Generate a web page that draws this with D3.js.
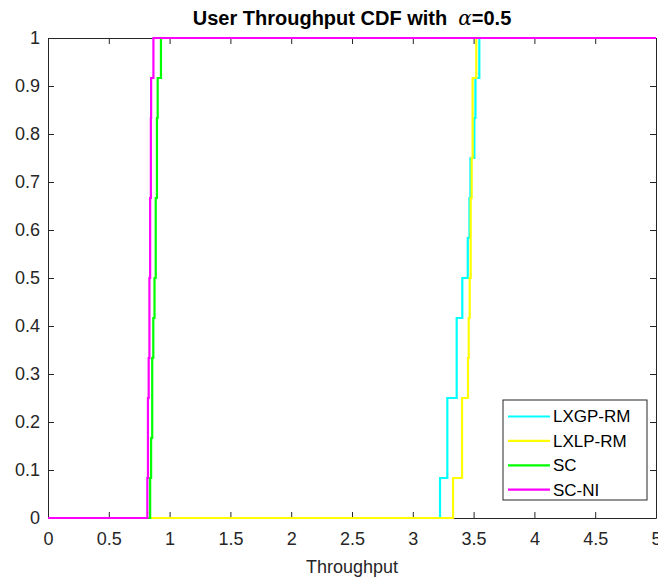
<!DOCTYPE html>
<html><head><meta charset="utf-8">
<script src="https://cdn.jsdelivr.net/npm/d3@7/dist/d3.min.js"></script>
<style>body{margin:0;background:#fff}svg{display:block}</style>
</head><body>
<svg id="c" width="658" height="580"></svg>
<script>
// ---- data ----
const seriesNames = ["LXGP-RM", "LXLP-RM", "SC", "SC-NI"];
const seriesColors = ["#00ffff", "#ffff00", "#00ff00", "#ff00ff"];
// step positions (throughput) and CDF value after each step
const lxgpX = [3.224, 3.284, 3.361, 3.407, 3.452, 3.466, 3.474, 3.506, 3.515, 3.547];
const lxgpF = [1/12, 3/12, 5/12, 6/12, 7/12, 8/12, 9/12, 10/12, 11/12, 1];
const lxlpX = [3.331, 3.405, 3.454, 3.460, 3.468, 3.476, 3.484, 3.492, 3.522];
const lxlpF = [1/12, 3/12, 4/12, 5/12, 6/12, 8/12, 9/12, 11/12, 1];
const scX = [0.840, 0.848, 0.857, 0.866, 0.876, 0.886, 0.896, 0.902, 0.929];
const scF = [1/12, 2/12, 4/12, 5/12, 6/12, 8/12, 10/12, 11/12, 1];
const scniX = [0.817, 0.822, 0.828, 0.834, 0.840, 0.846, 0.848, 0.867];
const scniF = [1/12, 3/12, 4/12, 6/12, 8/12, 10/12, 11/12, 1];
const xTicks = [0, 0.5, 1, 1.5, 2, 2.5, 3, 3.5, 4, 4.5, 5];
const yTicks = [0, 0.1, 0.2, 0.3, 0.4, 0.5, 0.6, 0.7, 0.8, 0.9, 1];
const xDomain = [0, 5], yDomain = [0, 1];

const seriesX = [lxgpX, lxlpX, scX, scniX];
const seriesF = [lxgpF, lxlpF, scF, scniF];

// ---- layout ----
const L = 48, R = 656, T = 38, B = 518;
const svg = d3.select("#c");
const x = d3.scaleLinear().domain(xDomain).range([L, R]);
const y = d3.scaleLinear().domain(yDomain).range([B, T]);
const font = "'Liberation Sans', Arial, Helvetica, sans-serif";
const axisColor = "#262626";
const tickLen = 6;

// axes with inward ticks on all four sides
const fmt = d => d3.format("")(+d.toFixed(2));
const gB = svg.append("g").attr("transform", `translate(0,${B})`)
  .call(d3.axisBottom(x).tickValues(xTicks).tickFormat(fmt).tickSizeInner(-tickLen).tickSizeOuter(0).tickPadding(tickLen + 8));
const gT = svg.append("g").attr("transform", `translate(0,${T})`)
  .call(d3.axisTop(x).tickValues(xTicks).tickFormat("").tickSizeInner(-tickLen).tickSizeOuter(0));
const gL = svg.append("g").attr("transform", `translate(${L},0)`)
  .call(d3.axisLeft(y).tickValues(yTicks).tickFormat(fmt).tickSizeInner(-tickLen).tickSizeOuter(0).tickPadding(tickLen + 2));
const gR = svg.append("g").attr("transform", `translate(${R},0)`)
  .call(d3.axisRight(y).tickValues(yTicks).tickFormat("").tickSizeInner(-tickLen).tickSizeOuter(0));
[gB, gT, gL, gR].forEach(g => {
  g.select(".domain").attr("stroke", axisColor).attr("stroke-width", 1);
  g.selectAll(".tick line").attr("stroke", axisColor);
  g.selectAll("text").attr("fill", axisColor).style("font-family", font).style("font-size", "18px");
});

// series
const line = d3.line().x(d => x(d[0])).y(d => y(d[1])).curve(d3.curveStepAfter);
seriesNames.forEach((name, i) => {
  const pts = [[xDomain[0], 0]].concat(seriesX[i].map((v, j) => [v, seriesF[i][j]]), [[xDomain[1], 1]]);
  svg.append("path").datum(pts).attr("d", line)
    .attr("fill", "none").attr("stroke", seriesColors[i]).attr("stroke-width", 2.2);
});

// title
const title = svg.append("text").attr("x", (L + R) / 2).attr("y", 25).attr("text-anchor", "middle")
  .attr("fill", "#000").style("font-family", font).style("font-size", "20px").style("font-weight", "bold");
title.append("tspan").text("User Throughput CDF with\u00a0\u00a0");
title.append("tspan").text("α").style("font-style", "italic").style("font-weight", "normal").style("font-family", "'DejaVu Serif', serif");
title.append("tspan").text("=0.5");

// x label
svg.append("text").attr("x", (L + R) / 2).attr("y", 573).attr("text-anchor", "middle")
  .attr("fill", axisColor).style("font-family", font).style("font-size", "18px").text("Throughput");

// legend
const lg = svg.append("g");
const lgX = 503, lgY = 400, lgW = 144, lgH = 100, rowH = 24.4;
lg.append("rect").attr("x", lgX).attr("y", lgY).attr("width", lgW).attr("height", lgH)
  .attr("fill", "#fff").attr("stroke", axisColor).attr("stroke-width", 1);
seriesNames.forEach((name, i) => {
  const yy = lgY + 16.5 + i * rowH;
  lg.append("line").attr("x1", lgX + 5).attr("x2", lgX + 47).attr("y1", yy).attr("y2", yy)
    .attr("stroke", seriesColors[i]).attr("stroke-width", 2.2);
  lg.append("text").attr("x", lgX + 50).attr("y", yy).attr("dy", "0.35em")
    .attr("fill", "#000").style("font-family", font).style("font-size", "17px").text(name);
});
</script>
</body></html>
